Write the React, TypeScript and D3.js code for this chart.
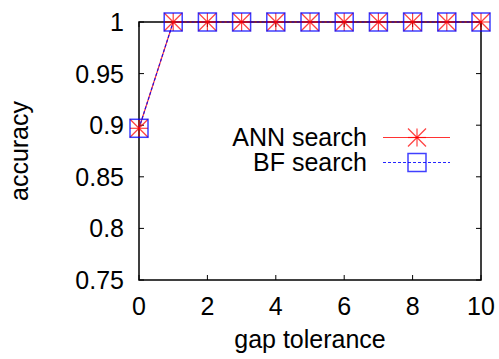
import * as d3 from "d3";

const gaps = [0, 1, 2, 3, 4, 5, 6, 7, 8, 9, 10];
const annAccuracy = [0.897, 1, 1, 1, 1, 1, 1, 1, 1, 1, 1];
const bfAccuracy = [0.897, 1, 1, 1, 1, 1, 1, 1, 1, 1, 1];
const xTicks = [0, 2, 4, 6, 8, 10];
const yTicks = [0.75, 0.8, 0.85, 0.9, 0.95, 1];

const W = 499;
const H = 359;
const m = { left: 139, right: 18, top: 22, bottom: 79 };
const font = "'Liberation Sans', Arial, sans-serif";
const fs = 25;

const Star = ({ x, y, s = 9 }: { x: number; y: number; s?: number }) => (
  <g stroke="rgba(255,0,0,0.75)" strokeWidth={1.2}>
    <line x1={x - s} y1={y} x2={x + s} y2={y} />
    <line x1={x} y1={y - s} x2={x} y2={y + s} />
    <line x1={x - s} y1={y - s} x2={x + s} y2={y + s} />
    <line x1={x - s} y1={y + s} x2={x + s} y2={y - s} />
  </g>
);

const Box = ({ x, y, s = 9 }: { x: number; y: number; s?: number }) => (
  <rect x={x - s} y={y - s} width={2 * s} height={2 * s} fill="none"
    stroke="rgba(0,0,255,0.75)" strokeWidth={1.5} />
);

export default function App() {
  const x = d3.scaleLinear().domain([0, 10]).range([m.left, W - m.right]);
  const y = d3.scaleLinear().domain([0.75, 1]).range([H - m.bottom, m.top]);

  const line = d3.line<number>().x((_, i) => x(gaps[i])).y((d) => y(d));

  const [x0, x1] = x.range();
  const [y0, y1] = y.range();

  return (
    <svg width={W} height={H} style={{ position: "absolute", left: 0, top: 0 }}
      fontFamily={font}>
      <rect width={W} height={H} fill="#fff" />
      {/* ticks */}
      <g stroke="#000" strokeWidth={1}>
        {xTicks.map((t) => (
          <g key={"xt" + t}>
            <line x1={x(t)} x2={x(t)} y1={y0} y2={y0 - 5} />
            <line x1={x(t)} x2={x(t)} y1={y1} y2={y1 + 5} />
          </g>
        ))}
        {yTicks.map((t) => (
          <g key={"yt" + t}>
            <line x1={x0} x2={x0 + 5} y1={y(t)} y2={y(t)} />
            <line x1={x1} x2={x1 - 5} y1={y(t)} y2={y(t)} />
          </g>
        ))}
      </g>
      <g fontSize={fs} fill="#000">
        {xTicks.map((t) => (
          <text key={"xl" + t} x={x(t)} y={y0 + 35} textAnchor="middle">{t}</text>
        ))}
        {yTicks.map((t) => (
          <text key={"yl" + t} x={x0 - 15} y={y(t) + 9} textAnchor="end">{t}</text>
        ))}
        <text x={(x0 + x1) / 2} y={348} textAnchor="middle">gap tolerance</text>
        <text transform={`translate(28,${(y0 + y1) / 2}) rotate(-90)`} textAnchor="middle">accuracy</text>
      </g>
      <rect x={x0} y={y1} width={x1 - x0} height={y0 - y1} fill="none" stroke="#000" strokeWidth={1.5} />
      {/* series */}
      <path d={line(annAccuracy) ?? ""} fill="none" stroke="rgba(255,0,0,0.8)" strokeWidth={1.2} />
      <path d={line(bfAccuracy) ?? ""} fill="none" stroke="rgba(0,0,255,0.85)" strokeWidth={1.2} strokeDasharray="3,2" />
      {annAccuracy.map((d, i) => <Star key={"s" + i} x={x(gaps[i])} y={y(d)} />)}
      {bfAccuracy.map((d, i) => <Box key={"b" + i} x={x(gaps[i])} y={y(d)} />)}
      {/* legend */}
      <g fontSize={fs}>
        <text x={367} y={146} textAnchor="end">ANN search</text>
        <line x1={383} x2={450} y1={137.5} y2={137.5} stroke="rgba(255,0,0,0.8)" strokeWidth={1.2} />
        <Star x={417} y={137.5} />
        <text x={367} y={171} textAnchor="end">BF search</text>
        <line x1={383} x2={450} y1={162.5} y2={162.5} stroke="rgba(0,0,255,0.85)" strokeWidth={1.2} strokeDasharray="3,2" />
        <Box x={417} y={162.5} />
      </g>
    </svg>
  );
}
